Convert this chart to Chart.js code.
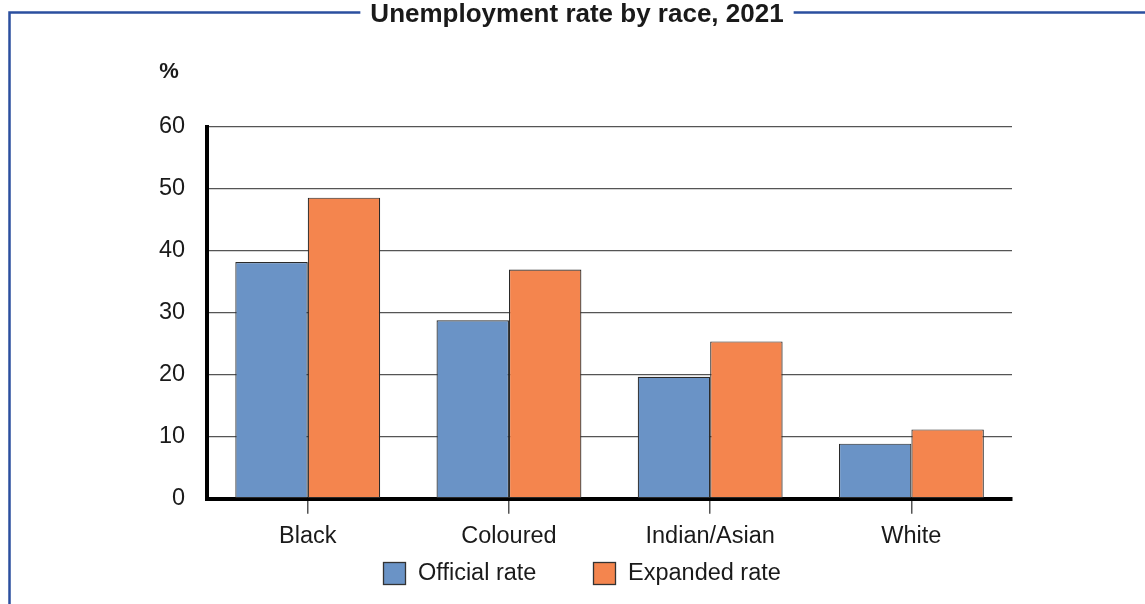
<!DOCTYPE html>
<html>
<head>
<meta charset="utf-8">
<script src="https://cdn.jsdelivr.net/npm/chart.js@4.4.1/dist/chart.umd.min.js"></script>
<style>
  html, body { margin: 0; padding: 0; background: #ffffff; }
  #wrap { width: 1145px; height: 604px; position: relative; }
  canvas { display: block; }
</style>
</head>
<body>
<div id="wrap"><canvas id="c" width="1145" height="604"></canvas></div>
<script>
const chartTitle = "Unemployment rate by race, 2021";
const yUnit = "%";
const categories = ["Black", "Coloured", "Indian/Asian", "White"];
const seriesNames = ["Official rate", "Expanded rate"];
const officialRate = [38.2, 28.8, 19.7, 8.9];
const expandedRate = [48.6, 37.0, 25.4, 11.2];
const yTicks = [0, 10, 20, 30, 40, 50, 60];

const BLUE = "#6a93c6";
const ORANGE = "#f4854e";
const FRAME = "#2b4f9f";
const FONT = "'Liberation Sans', Arial, Helvetica, sans-serif";

const framePlugin = {
  id: "frameTitle",
  afterDraw(chart) {
    const ctx = chart.ctx;
    ctx.save();
    ctx.font = "bold 26px " + FONT;
    ctx.fillStyle = "#1a1a1a";
    ctx.textAlign = "center";
    ctx.textBaseline = "middle";
    const cx = 577, cy = 15;
    ctx.fillText(chartTitle, cx, cy);
    const w = ctx.measureText(chartTitle).width;
    ctx.strokeStyle = FRAME;
    ctx.lineWidth = 2.5;
    ctx.beginPath();
    ctx.moveTo(9.5, 604);
    ctx.lineTo(9.5, 12.5);
    ctx.lineTo(cx - w / 2 - 10, 12.5);
    ctx.moveTo(cx + w / 2 + 10, 12.5);
    ctx.lineTo(1145, 12.5);
    ctx.stroke();
    // unit label
    ctx.font = "bold 22px " + FONT;
    ctx.fillStyle = "#1a1a1a";
    ctx.textAlign = "center";
    ctx.fillText(yUnit, 169, 72);
    // legend
    const items = [
      { label: seriesNames[0], color: chart.data.datasets[0].backgroundColor, x: 383 },
      { label: seriesNames[1], color: chart.data.datasets[1].backgroundColor, x: 593 }
    ];
    ctx.font = "23.5px " + FONT;
    ctx.textAlign = "left";
    items.forEach(it => {
      ctx.fillStyle = it.color;
      ctx.fillRect(it.x, 562, 22, 22);
      ctx.strokeStyle = "#333";
      ctx.lineWidth = 1.3;
      ctx.strokeRect(it.x + 0.5, 562.5, 22, 22);
      ctx.fillStyle = "#1a1a1a";
      ctx.fillText(it.label, it.x + 35, 574);
    });
    ctx.restore();
  }
};

new Chart(document.getElementById("c"), {
  type: "bar",
  data: {
    labels: categories,
    datasets: [
      { label: seriesNames[0], data: officialRate, backgroundColor: BLUE, borderColor: "#2a2a2a", borderWidth: 1.2, borderSkipped: false },
      { label: seriesNames[1], data: expandedRate, backgroundColor: ORANGE, borderColor: "#2a2a2a", borderWidth: 1.2, borderSkipped: false }
    ]
  },
  options: {
    responsive: false,
    animation: false,
    devicePixelRatio: 1,
    layout: { padding: { top: 127, right: 133, bottom: 44, left: 137 } },
    datasets: { bar: { categoryPercentage: 0.72, barPercentage: 1.0 } },
    plugins: {
      legend: { display: false },
      title: { display: false },
      tooltip: { enabled: false }
    },
    scales: {
      x: {
        offset: true,
        grid: { display: true, offset: false, drawOnChartArea: false, drawTicks: true, tickLength: 15, color: "#555", lineWidth: 1.5 },
        border: { display: true, color: "#000", width: 4 },
        ticks: { color: "#1a1a1a", font: { family: FONT, size: 23.5 }, padding: 9 }
      },
      y: {
        min: 0, max: 60,
        afterBuildTicks(scale) { scale.ticks = yTicks.map(v => ({ value: v })); },
        grid: { color: "#555", lineWidth: 1.2, drawTicks: false },
        border: { display: true, color: "#000", width: 4 },
        ticks: { color: "#1a1a1a", font: { family: FONT, size: 23.5 }, padding: 22 }
      }
    }
  },
  plugins: [framePlugin]
});
</script>
</body>
</html>
